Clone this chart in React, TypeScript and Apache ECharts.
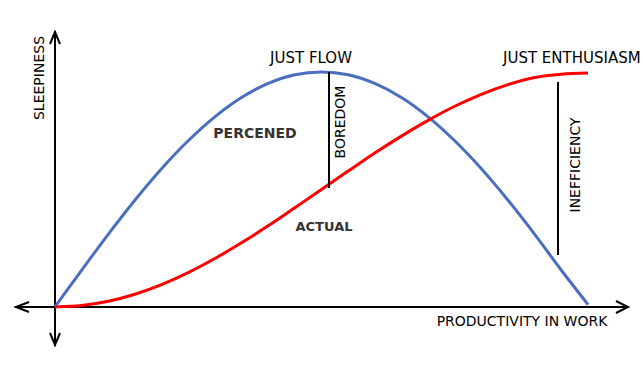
import React, { useEffect, useRef } from "react";
import * as echarts from "echarts";

const xValues = [0, 5, 10, 15, 20, 25, 30, 35, 40, 45, 50, 55, 60, 65, 70, 75, 80, 85, 90, 95, 100];
const perceived = [0, 0.156, 0.309, 0.454, 0.588, 0.707, 0.809, 0.891, 0.951, 0.988, 1.0, 0.988, 0.951, 0.891, 0.809, 0.707, 0.588, 0.454, 0.309, 0.156, 0.01];
const actual = [0, 0.006, 0.024, 0.054, 0.095, 0.146, 0.206, 0.273, 0.345, 0.422, 0.5, 0.578, 0.655, 0.727, 0.794, 0.854, 0.905, 0.946, 0.976, 0.99, 0.995];
const boredomLine = { x: 51.4, y1: 1.0, y2: 0.506 };
const inefficiencyLine = { x: 94.4, y1: 0.957, y2: 0.221 };

const FONT = "DejaVu Sans";

export default function App() {
  const ref = useRef<HTMLDivElement>(null);
  useEffect(() => {
    if (!ref.current) return;
    const chart = echarts.init(ref.current, null, { renderer: "svg" });
    const pair = (xs: number[], ys: number[]) => xs.map((x, i) => [x, ys[i]]);
    const txt = (text: string, x: number, y: number, opts: any = {}) => ({
      type: "text",
      x,
      y,
      rotation: opts.rotation || 0,
      style: {
        text,
        fill: opts.fill || "#000",
        font: `${opts.weight || "normal"} ${opts.size || 14}px "${FONT}"`,
        align: opts.align || "left",
        verticalAlign: "middle",
      },
    });
    const chev = (pts: number[][]) => ({
      type: "polyline",
      shape: { points: pts },
      style: { stroke: "#000", lineWidth: 2, fill: "none" },
    });
    chart.setOption({
      animation: false,
      grid: { left: 16, right: 15, top: 32, bottom: 22 },
      xAxis: {
        type: "value",
        min: -7.3,
        max: 107.5,
        axisLine: { show: true, onZero: true, lineStyle: { color: "#000", width: 2 } },
        axisTick: { show: false },
        axisLabel: { show: false },
        splitLine: { show: false },
      },
      yAxis: {
        type: "value",
        min: -0.162,
        max: 1.17,
        axisLine: { show: true, onZero: true, lineStyle: { color: "#000", width: 2 } },
        axisTick: { show: false },
        axisLabel: { show: false },
        splitLine: { show: false },
      },
      series: [
        {
          type: "line",
          data: pair(xValues, perceived),
          smooth: 0.3,
          showSymbol: false,
          lineStyle: { color: "#4a6fbf", width: 3 },
          z: 3,
        },
        {
          type: "line",
          data: pair(xValues, actual),
          smooth: 0.3,
          showSymbol: false,
          lineStyle: { color: "#ff0000", width: 3 },
          z: 4,
          markLine: {
            silent: true,
            symbol: "none",
            label: { show: false },
            lineStyle: { color: "#000", width: 2, type: "solid" },
            data: [
              [
                { coord: [boredomLine.x, boredomLine.y1] },
                { coord: [boredomLine.x, boredomLine.y2] },
              ],
              [
                { coord: [inefficiencyLine.x, inefficiencyLine.y1] },
                { coord: [inefficiencyLine.x, inefficiencyLine.y2] },
              ],
            ],
          },
        },
      ],
      graphic: [
        chev([[50, 44], [55, 32], [60, 44]]),
        chev([[50, 333], [55, 345], [60, 333]]),
        chev([[29, 302], [16, 307], [29, 312]]),
        chev([[616, 301], [628, 307], [616, 313]]),
        txt("JUST FLOW", 311, 58, { align: "center", size: 15 }),
        txt("JUST ENTHUSIASM", 503, 58, { size: 15 }),
        txt("PERCENED", 255, 133, { align: "center", fill: "#333", weight: "bold" }),
        txt("ACTUAL", 324, 226, { align: "center", fill: "#333", weight: "bold", size: 13 }),
        txt("BOREDOM", 340, 122, { align: "center", rotation: Math.PI / 2 }),
        txt("INEFFICIENCY", 575, 165, { align: "center", rotation: Math.PI / 2 }),
        txt("SLEEPINESS", 39, 78, { align: "center", rotation: Math.PI / 2 }),
        txt("PRODUCTIVITY IN WORK", 522, 321, { align: "center" }),
      ],
    });
    return () => chart.dispose();
  }, []);
  return (
    <div
      ref={ref}
      style={{ position: "fixed", left: 0, top: 0, width: 643, height: 367, background: "#fff" }}
    />
  );
}
